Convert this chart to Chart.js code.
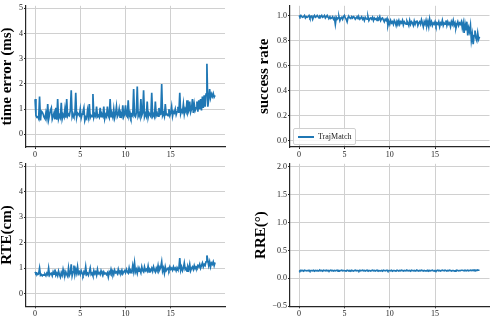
<!DOCTYPE html>
<html lang="en">
<head>
    <meta charset="UTF-8">
    <title>TrajMatch metrics</title>
    <script src="https://cdn.jsdelivr.net/npm/chart.js"></script>
    <style>
        body { margin: 0; background: #fff; }
        #wrap { position: relative; width: 490px; height: 316px; overflow: hidden; }
        canvas { position: absolute; }
        #legend {
            position: absolute; left: 293px; top: 128px; width: 61px; height: 15px;
            border: 1px solid #d0d0d0; border-radius: 2px; background: rgba(255,255,255,0.85);
            font: 8px "Liberation Serif", serif; color: #222;
        }
        #legend .swatch { position: absolute; left: 4px; top: 7px; width: 16px; height: 2px; background: #1f77b4; }
        #legend .label { position: absolute; left: 24px; top: 3px; line-height: 9px; }
    </style>
</head>
<body>
<div id="wrap">
    <canvas id="c1" width="245" height="158" style="left:0;top:0"></canvas>
    <canvas id="c2" width="245" height="158" style="left:245px;top:0"></canvas>
    <canvas id="c3" width="245" height="158" style="left:0;top:158px"></canvas>
    <canvas id="c4" width="245" height="158" style="left:245px;top:158px"></canvas>
    <div id="legend"><span class="swatch"></span><span class="label">TrajMatch</span></div>
</div>

<script>
    // values, one sample every 0.1 on the x axis
    const timeError = [
        1.40, 0.75, 0.68, 0.70, 0.62, 1.50, 0.55, 0.92, 0.88, 0.80,
        0.68, 0.62, 0.85, 0.65, 1.20, 0.60, 0.78, 0.95, 1.05, 0.60,
        0.72, 0.85, 0.60, 1.05, 0.58, 1.40, 0.62, 0.75, 0.66, 1.25,
        0.62, 0.78, 0.70, 1.00, 0.66, 1.40, 0.72, 0.80, 0.75, 0.95,
        1.75, 0.70, 0.82, 0.72, 0.78, 1.65, 0.68, 0.85, 0.80, 0.75,
        1.00, 0.65, 0.80, 0.90, 1.05, 0.55, 0.68, 0.62, 0.95, 0.72,
        1.20, 0.66, 0.75, 0.70, 1.60, 0.68, 0.80, 0.72, 1.10, 0.70,
        0.75, 0.68, 1.05, 0.70, 0.80, 0.72, 1.10, 0.62, 0.78, 0.70,
        1.10, 0.75, 0.66, 1.40, 0.70, 0.82, 0.68, 1.00, 0.65, 0.80,
        1.10, 0.70, 0.78, 1.00, 0.68, 0.82, 0.72, 1.15, 0.70, 0.80,
        1.15, 0.75, 0.70, 1.35, 0.72, 0.85, 0.68, 0.80, 0.74, 1.80,
        0.75, 0.70, 0.85, 1.90, 0.72, 0.82, 0.70, 1.40, 0.75, 0.85,
        1.75, 0.70, 0.82, 0.72, 1.30, 0.68, 0.85, 0.78, 0.72, 1.65,
        0.72, 0.80, 0.70, 1.30, 0.75, 0.85, 0.72, 1.05, 0.78, 0.80,
        2.00, 0.75, 0.85, 0.72, 1.20, 0.78, 0.80, 0.74, 1.00, 0.75,
        0.85, 1.10, 0.72, 0.90, 0.85, 1.00, 0.78, 0.90, 1.10, 0.85,
        1.65, 0.82, 0.95, 0.88, 1.20, 0.80, 1.00, 0.90, 1.35, 0.85,
        0.95, 1.30, 0.88, 1.00, 1.40, 0.85, 1.20, 0.95, 1.05, 1.30,
        0.90, 1.35, 1.00, 1.40, 0.95, 1.50, 1.05, 1.55, 1.10, 1.60,
        2.80, 1.10, 1.40, 1.80, 1.45, 1.60, 1.50, 1.62, 1.48, 1.55
    ];
    const successRate = [
        1.00, 0.99, 1.00, 0.99, 0.985, 0.99, 1.00, 0.98, 0.99, 0.985,
        0.99, 1.00, 0.98, 0.99, 0.995, 0.97, 0.99, 1.00, 0.985, 0.99,
        1.00, 0.99, 0.98, 0.995, 0.99, 1.00, 0.985, 0.99, 1.00, 0.98,
        0.99, 1.00, 0.985, 0.98, 0.99, 0.975, 0.98, 0.99, 0.97, 0.98,
        0.93, 0.985, 0.97, 0.98, 0.99, 0.96, 0.98, 0.985, 0.97, 0.99,
        1.00, 0.98, 0.97, 0.95, 0.985, 0.99, 0.98, 0.975, 0.99, 0.98,
        0.99, 0.985, 0.97, 0.98, 0.99, 0.975, 0.985, 0.97, 0.98, 0.99,
        0.97, 0.98, 0.96, 0.985, 0.975, 0.97, 0.99, 0.96, 0.975, 0.98,
        0.97, 0.985, 0.96, 0.98, 0.97, 0.975, 0.96, 0.98, 0.97, 0.99,
        0.96, 0.975, 0.98, 0.965, 0.95, 0.97, 0.96, 0.975, 0.92, 0.95,
        0.93, 0.96, 0.94, 0.95, 0.93, 0.96, 0.945, 0.92, 0.955, 0.94,
        0.96, 0.93, 0.95, 0.94, 0.96, 0.925, 0.95, 0.94, 0.93, 0.955,
        0.94, 0.92, 0.96, 0.93, 0.95, 0.94, 0.92, 0.955, 0.93, 0.95,
        0.96, 0.92, 0.94, 0.95, 0.93, 0.965, 0.94, 0.91, 0.95, 0.93,
        0.96, 0.92, 0.95, 0.91, 0.97, 0.93, 0.95, 0.92, 0.94, 0.93,
        0.95, 0.92, 0.94, 0.93, 0.95, 0.91, 0.94, 0.93, 0.96, 0.92,
        0.94, 0.93, 0.96, 0.92, 0.95, 0.93, 0.94, 0.91, 0.95, 0.93,
        0.96, 0.92, 0.94, 0.90, 0.93, 0.95, 0.92, 0.94, 0.93, 0.95,
        0.90, 0.94, 0.86, 0.93, 0.88, 0.95, 0.84, 0.90, 0.87, 0.92,
        0.80, 0.85, 0.77, 0.84, 0.88, 0.82, 0.80, 0.86, 0.81, 0.83
    ];
    const rte = [
        0.85, 0.78, 0.80, 0.75, 0.78, 1.00, 0.72, 0.75, 0.70, 0.74,
        0.72, 0.76, 0.70, 0.80, 0.74, 1.00, 0.72, 0.78, 0.80, 0.70,
        0.85, 0.76, 0.95, 0.72, 0.80, 0.70, 0.88, 0.75, 0.65, 0.82,
        0.72, 0.95, 0.78, 0.70, 0.85, 0.75, 0.68, 1.00, 0.72, 0.80,
        1.15, 0.70, 0.85, 1.10, 0.75, 0.95, 0.80, 1.05, 0.78, 0.85,
        0.75, 0.90, 0.80, 0.72, 0.85, 0.78, 1.05, 0.75, 0.80, 0.72,
        0.85, 1.00, 0.75, 0.80, 0.70, 0.90, 0.78, 0.85, 0.72, 0.95,
        0.78, 0.82, 0.75, 0.90, 0.80, 0.72, 0.85, 0.78, 0.80, 0.75,
        0.82, 0.65, 0.85, 0.78, 0.95, 0.80, 0.88, 0.75, 0.92, 0.82,
        0.85, 0.78, 0.95, 0.80, 0.88, 0.82, 0.92, 0.78, 0.85, 0.90,
        0.82, 0.95, 0.85, 0.80, 1.00, 0.82, 0.90, 0.85, 1.10, 0.88,
        1.20, 0.85, 0.95, 0.80, 1.00, 0.88, 0.92, 0.82, 1.05, 0.90,
        0.85, 1.05, 0.90, 0.95, 0.88, 1.08, 0.85, 0.95, 0.90, 1.00,
        0.88, 1.05, 0.92, 0.85, 1.00, 0.90, 1.10, 0.88, 0.95, 1.05,
        1.25, 0.88, 1.00, 0.80, 1.05, 0.90, 0.95, 1.00, 0.92, 1.05,
        0.95, 1.00, 0.92, 1.05, 0.95, 1.00, 0.90, 1.02, 0.95, 0.98,
        1.40, 0.92, 1.05, 0.90, 1.00, 1.20, 0.95, 1.00, 0.88, 1.05,
        0.95, 1.15, 0.90, 1.00, 1.05, 0.95, 1.10, 0.98, 1.05, 1.00,
        1.10, 1.05, 1.15, 1.00, 1.10, 1.20, 1.05, 1.15, 1.10, 1.25,
        1.50, 1.30, 1.10, 1.25, 1.05, 1.20, 1.15, 1.25, 1.10, 1.22
    ];
    const rre = [
        0.14, 0.13, 0.145, 0.135, 0.14, 0.13, 0.145, 0.14, 0.135, 0.14,
        0.135, 0.145, 0.13, 0.14, 0.14, 0.135, 0.145, 0.13, 0.14, 0.135,
        0.14, 0.13, 0.14, 0.145, 0.135, 0.14, 0.13, 0.145, 0.14, 0.135,
        0.145, 0.135, 0.14, 0.13, 0.14, 0.145, 0.135, 0.14, 0.13, 0.14,
        0.135, 0.14, 0.145, 0.13, 0.14, 0.135, 0.14, 0.145, 0.135, 0.14,
        0.14, 0.135, 0.13, 0.145, 0.14, 0.135, 0.14, 0.13, 0.145, 0.135,
        0.13, 0.14, 0.145, 0.135, 0.14, 0.14, 0.13, 0.145, 0.135, 0.14,
        0.145, 0.135, 0.14, 0.13, 0.14, 0.145, 0.135, 0.14, 0.14, 0.13,
        0.14, 0.145, 0.135, 0.14, 0.13, 0.14, 0.145, 0.135, 0.14, 0.135,
        0.135, 0.14, 0.13, 0.145, 0.14, 0.135, 0.14, 0.145, 0.13, 0.14,
        0.14, 0.135, 0.145, 0.13, 0.14, 0.14, 0.135, 0.13, 0.145, 0.14,
        0.13, 0.14, 0.135, 0.145, 0.14, 0.13, 0.14, 0.135, 0.14, 0.145,
        0.14, 0.135, 0.14, 0.13, 0.145, 0.14, 0.135, 0.14, 0.13, 0.14,
        0.145, 0.14, 0.13, 0.14, 0.135, 0.145, 0.14, 0.13, 0.14, 0.135,
        0.135, 0.14, 0.145, 0.13, 0.14, 0.135, 0.14, 0.145, 0.135, 0.13,
        0.14, 0.13, 0.14, 0.145, 0.135, 0.14, 0.13, 0.14, 0.145, 0.14,
        0.135, 0.145, 0.14, 0.13, 0.14, 0.135, 0.145, 0.14, 0.13, 0.14,
        0.14, 0.135, 0.13, 0.14, 0.145, 0.14, 0.135, 0.14, 0.14, 0.145,
        0.145, 0.14, 0.135, 0.145, 0.14, 0.14, 0.145, 0.135, 0.14, 0.145,
        0.14, 0.145, 0.14, 0.15, 0.14, 0.145, 0.14, 0.15, 0.145, 0.145
    ];

    const xTicks = [0, 5, 10, 15];
    const errTicks = [0, 1, 2, 3, 4, 5];
    const rateTicks = [0, 0.2, 0.4, 0.6, 0.8, 1.0];
    const rreTicks = [-0.5, 0, 0.5, 1.0, 1.5, 2.0];
    const xs = timeError.map((_, i) => i / 10);

    const BLUE = '#1f77b4';
    const GRID = '#d0d0d0';
    const SPINE = '#262626';
    const tickFont = { family: '"Liberation Serif", serif', size: 8 };

    function makeChart(id, cfg) {
        const ctx = document.getElementById(id).getContext('2d');
        return new Chart(ctx, {
            type: 'line',
            data: {
                datasets: [{
                    label: cfg.label || '',
                    data: xs.map((x, i) => ({ x: x, y: cfg.values[i] })),
                    borderColor: BLUE,
                    borderWidth: 1.7,
                    pointRadius: 0,
                    tension: 0,
                    fill: false
                }]
            },
            options: {
                responsive: false,
                animation: false,
                events: [],
                layout: { padding: cfg.padding },
                plugins: { legend: { display: false }, tooltip: { enabled: false } },
                scales: {
                    x: {
                        type: 'linear', min: -1, max: 21,
                        afterBuildTicks: s => { s.ticks = xTicks.map(v => ({ value: v })); },
                        afterFit: s => { s.height = cfg.xHeight; },
                        grid: { color: GRID, lineWidth: 1, tickLength: 2, tickColor: SPINE },
                        border: { display: true, color: SPINE, width: 1.2 },
                        ticks: { font: tickFont, color: '#222', padding: 1, maxRotation: 0 }
                    },
                    y: {
                        min: cfg.yMin, max: cfg.yMax,
                        afterBuildTicks: s => { s.ticks = cfg.yTicks.map(v => ({ value: v })); },
                        afterFit: s => { s.width = cfg.yWidth; },
                        grid: { color: GRID, lineWidth: 1, tickLength: 2, tickColor: SPINE },
                        border: { display: true, color: SPINE, width: 1.2 },
                        ticks: {
                            font: tickFont, color: '#222', padding: 1,
                            callback: v => cfg.fmt(v)
                        },
                        title: {
                            display: true, text: cfg.title, color: '#000',
                            padding: 0,
                            font: { family: '"Liberation Serif", serif', size: 15, weight: 'bold', lineHeight: 1 }
                        }
                    }
                }
            }
        });
    }

    makeChart('c1', {
        values: timeError, title: 'time error (ms)',
        yMin: -0.5, yMax: 5.1, yTicks: errTicks, fmt: v => String(v),
        padding: { left: 0, right: 20, top: 0, bottom: 0 }, yWidth: 26, xHeight: 11
    });
    makeChart('c2', {
        values: successRate, title: 'success rate', label: 'TrajMatch',
        yMin: -0.05, yMax: 1.077, yTicks: rateTicks, fmt: v => v.toFixed(1),
        padding: { left: 12, right: 0.5, top: 0, bottom: 0 }, yWidth: 33, xHeight: 11
    });
    makeChart('c3', {
        values: rte, title: 'RTE(cm)',
        yMin: -0.5, yMax: 5.1, yTicks: errTicks, fmt: v => String(v),
        padding: { left: 0, right: 20, top: 2.7, bottom: 0 }, yWidth: 26, xHeight: 9.7
    });
    makeChart('c4', {
        values: rre, title: 'RRE(°)',
        yMin: -0.5, yMax: 2.05, yTicks: rreTicks, fmt: v => (v < 0 ? '\u22120.5' : v.toFixed(1)),
        padding: { left: 9, right: 0.5, top: 2.8, bottom: 0 }, yWidth: 36, xHeight: 9.7
    });
</script>
</body>
</html>
